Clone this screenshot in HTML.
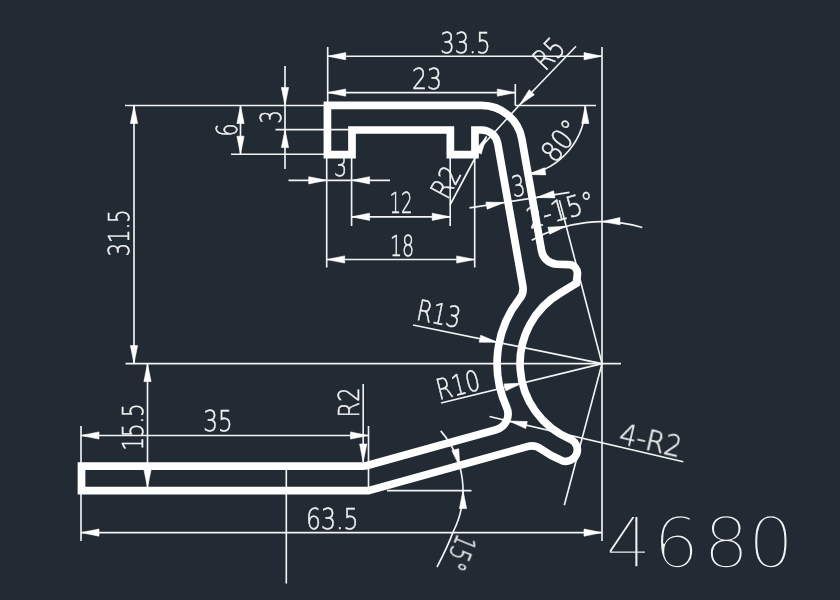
<!DOCTYPE html>
<html><head><meta charset="utf-8"><title>4680</title>
<style>
html,body{margin:0;padding:0;background:#222a33;}
body{width:840px;height:600px;overflow:hidden;}
svg{display:block;}
.thin line,.thin path{stroke:#f2f3f4;stroke-width:1.65;fill:none;}
.arr polygon{fill:#ffffff;stroke:#ffffff;stroke-width:0.6;}
.prof{fill:none;stroke:#ffffff;stroke-width:7.7;stroke-linejoin:miter;}
text{font-family:'DejaVu Sans Light','DejaVu Sans','Liberation Sans',sans-serif;font-weight:200;fill:#f2f3f4;stroke:#f2f3f4;stroke-width:0.55;text-rendering:geometricPrecision;}
.big{stroke:#222a33;stroke-width:1.45;}
</style></head><body>
<svg width="840" height="600" viewBox="0 0 840 600">
<rect width="840" height="600" fill="#222a33"/>
<g class="thin">
<line x1="602.0" y1="47.0" x2="602.0" y2="541.0"/>
<line x1="125.0" y1="105.5" x2="327.7" y2="105.5"/>
<line x1="125.5" y1="363.6" x2="621.0" y2="363.6"/>
<line x1="515.3" y1="105.5" x2="596.0" y2="105.5"/>
<line x1="286.3" y1="470.0" x2="286.3" y2="583.5"/>
<line x1="327.7" y1="47.0" x2="327.7" y2="105.5"/>
<line x1="327.7" y1="56.2" x2="602.0" y2="56.2"/>
<line x1="515.3" y1="84.0" x2="515.3" y2="105.5"/>
<line x1="327.7" y1="92.6" x2="515.3" y2="92.6"/>
<line x1="519.3" y1="105.2" x2="576.0" y2="46.3"/>
<line x1="519.3" y1="105.2" x2="481.6" y2="146.4"/>
<line x1="285.0" y1="66.0" x2="285.0" y2="169.0"/>
<line x1="275.5" y1="129.6" x2="351.0" y2="129.6"/>
<line x1="240.5" y1="105.5" x2="240.5" y2="154.2"/>
<line x1="231.0" y1="154.2" x2="327.7" y2="154.2"/>
<line x1="134.0" y1="105.5" x2="134.0" y2="363.6"/>
<line x1="147.5" y1="363.6" x2="147.5" y2="490.6"/>
<line x1="326.7" y1="154.0" x2="326.7" y2="267.5"/>
<line x1="351.6" y1="154.0" x2="351.6" y2="226.0"/>
<line x1="288.5" y1="180.3" x2="390.0" y2="180.3"/>
<line x1="450.2" y1="154.0" x2="450.2" y2="226.0"/>
<line x1="351.6" y1="216.8" x2="450.2" y2="216.8"/>
<line x1="474.7" y1="154.0" x2="474.7" y2="267.5"/>
<line x1="326.7" y1="259.5" x2="474.7" y2="259.5"/>
<line x1="450.0" y1="205.0" x2="486.5" y2="136.5"/>
<path d="M 585.3 105.5 A 70.0 70.0 0 0 1 527.5 174.4"/>
<line x1="469.5" y1="207.9" x2="569.5" y2="192.4"/>
<line x1="602.0" y1="363.6" x2="559.4" y2="200.1"/>
<line x1="602.0" y1="363.6" x2="564.3" y2="505.2"/>
<path d="M 531.7 240.3 A 142.0 142.0 0 0 1 642.3 227.5"/>
<line x1="413.0" y1="325.0" x2="602.0" y2="363.6"/>
<line x1="441.0" y1="403.0" x2="602.0" y2="363.6"/>
<line x1="683.3" y1="461.7" x2="489.5" y2="416.5"/>
<line x1="81.0" y1="426.0" x2="81.0" y2="541.0"/>
<line x1="368.5" y1="426.0" x2="368.5" y2="487.0"/>
<line x1="81.0" y1="435.5" x2="368.5" y2="435.5"/>
<line x1="363.2" y1="384.0" x2="363.2" y2="462.0"/>
<line x1="81.0" y1="532.6" x2="602.0" y2="532.6"/>
<line x1="387.0" y1="490.6" x2="471.5" y2="490.6"/>
<path d="M 440.7 430.9 A 91.0 91.0 0 0 1 453.1 531.9"/>
<path d="M 453.1 531.9 Q 448 546 437 567"/>
</g>
<g class="arr">
<polygon points="327.7,56.2 345.7,52.6 345.7,59.8"/>
<polygon points="602.0,56.2 584.0,59.8 584.0,52.6"/>
<polygon points="327.7,92.6 345.7,89.0 345.7,96.2"/>
<polygon points="515.3,92.6 497.3,96.2 497.3,89.0"/>
<polygon points="519.3,105.2 529.2,89.7 534.4,94.7"/>
<polygon points="285.0,105.5 281.4,87.5 288.6,87.5"/>
<polygon points="285.0,129.6 288.6,147.6 281.4,147.6"/>
<polygon points="240.5,105.5 244.1,123.5 236.9,123.5"/>
<polygon points="240.5,154.2 236.9,136.2 244.1,136.2"/>
<polygon points="134.0,105.5 137.6,123.5 130.4,123.5"/>
<polygon points="134.0,363.6 130.4,345.6 137.6,345.6"/>
<polygon points="147.5,363.6 151.1,381.6 143.9,381.6"/>
<polygon points="147.5,487.6 143.9,469.6 151.1,469.6"/>
<polygon points="326.7,180.3 308.7,183.9 308.7,176.7"/>
<polygon points="351.6,180.3 369.6,176.7 369.6,183.9"/>
<polygon points="351.6,216.8 369.6,213.2 369.6,220.4"/>
<polygon points="450.2,216.8 432.2,220.4 432.2,213.2"/>
<polygon points="326.7,259.5 344.7,255.9 344.7,263.1"/>
<polygon points="474.7,259.5 456.7,263.1 456.7,255.9"/>
<polygon points="486.5,136.5 481.2,154.1 474.9,150.7"/>
<polygon points="585.3,105.5 588.9,123.5 581.7,123.5"/>
<polygon points="527.5,174.4 544.6,167.8 545.8,174.9"/>
<polygon points="504.3,202.5 487.2,209.2 485.9,202.1"/>
<polygon points="536.5,197.5 553.6,190.8 554.9,197.9"/>
<polygon points="566.2,226.2 549.7,234.2 547.9,227.2"/>
<polygon points="602.0,221.6 619.9,217.6 620.1,224.8"/>
<polygon points="497.6,342.3 479.2,342.2 480.7,335.2"/>
<polygon points="522.4,383.1 505.8,390.9 504.0,383.9"/>
<polygon points="509.0,421.0 527.3,421.6 525.7,428.6"/>
<polygon points="81.0,435.5 99.0,431.9 99.0,439.1"/>
<polygon points="368.5,435.5 350.5,439.1 350.5,431.9"/>
<polygon points="363.2,462.0 359.6,444.0 366.8,444.0"/>
<polygon points="81.0,532.6 99.0,529.0 99.0,536.2"/>
<polygon points="602.0,532.6 584.0,536.2 584.0,529.0"/>
<polygon points="459.9,467.0 451.8,450.6 458.7,448.7"/>
<polygon points="463.0,490.6 466.6,508.6 459.4,508.6"/>
</g>
<g class="txt" opacity="0.996">
<text class="t" x="0" y="10.5" font-size="28.8" textLength="50.4" lengthAdjust="spacingAndGlyphs" text-anchor="middle" transform="translate(465.5 42.5) rotate(0.0)">33.5</text>
<text class="t" x="0" y="10.5" font-size="28.8" textLength="29.9" lengthAdjust="spacingAndGlyphs" text-anchor="middle" transform="translate(427.0 78.5) rotate(0.0)">23</text>
<text class="t" x="0" y="10.5" font-size="28.8" textLength="31.5" lengthAdjust="spacingAndGlyphs" text-anchor="middle" transform="translate(548.5 53.5) rotate(-46.0)">R5</text>
<text class="t" x="0" y="10.5" font-size="28.8" textLength="13.1" lengthAdjust="spacingAndGlyphs" text-anchor="middle" transform="translate(270.5 117.0) rotate(-90.0)">3</text>
<text class="t" x="0" y="10.5" font-size="28.8" textLength="13.1" lengthAdjust="spacingAndGlyphs" text-anchor="middle" transform="translate(226.0 130.0) rotate(-90.0)">6</text>
<text class="t" x="0" y="10.5" font-size="28.8" textLength="47.2" lengthAdjust="spacingAndGlyphs" text-anchor="middle" transform="translate(118.5 233.0) rotate(-90.0)">31.5</text>
<text class="t" x="0" y="10.5" font-size="28.8" textLength="47.2" lengthAdjust="spacingAndGlyphs" text-anchor="middle" transform="translate(132.0 427.0) rotate(-90.0)">15.5</text>
<text class="t" x="0" y="10.5" font-size="28.8" textLength="13.1" lengthAdjust="spacingAndGlyphs" text-anchor="middle" transform="translate(340.5 165.5) rotate(0.0)">3</text>
<text class="t" x="0" y="10.5" font-size="28.8" textLength="23.1" lengthAdjust="spacingAndGlyphs" text-anchor="middle" transform="translate(401.0 202.0) rotate(0.0)">12</text>
<text class="t" x="0" y="10.5" font-size="28.8" textLength="24.2" lengthAdjust="spacingAndGlyphs" text-anchor="middle" transform="translate(402.0 245.5) rotate(0.0)">18</text>
<text class="t" x="0" y="10.5" font-size="28.8" textLength="31.5" lengthAdjust="spacingAndGlyphs" text-anchor="middle" transform="translate(445.5 182.0) rotate(-61.5)">R2</text>
<text class="t" x="0" y="10.5" font-size="28.8" textLength="44.1" lengthAdjust="spacingAndGlyphs" text-anchor="middle" transform="translate(560.5 140.5) rotate(-52.0)">80°</text>
<text class="t" x="0" y="10.5" font-size="28.8" textLength="13.1" lengthAdjust="spacingAndGlyphs" text-anchor="middle" transform="translate(518.3 185.7) rotate(-9.0)">3</text>
<text class="t" x="0" y="10.5" font-size="28.8" textLength="69.3" lengthAdjust="spacingAndGlyphs" text-anchor="middle" transform="translate(560.5 209.5) rotate(-15.5)">2-15°</text>
<text class="t" x="0" y="10.5" font-size="28.8" textLength="44.1" lengthAdjust="spacingAndGlyphs" text-anchor="middle" transform="translate(439.0 313.5) rotate(11.5)">R13</text>
<text class="t" x="0" y="10.5" font-size="28.8" textLength="44.1" lengthAdjust="spacingAndGlyphs" text-anchor="middle" transform="translate(458.0 384.5) rotate(-13.8)">R10</text>
<text class="t" x="0" y="10.5" font-size="28.8" textLength="63.0" lengthAdjust="spacingAndGlyphs" text-anchor="middle" transform="translate(651.0 439.5) rotate(13.1)">4-R2</text>
<text class="t" x="0" y="10.5" font-size="28.8" textLength="29.4" lengthAdjust="spacingAndGlyphs" text-anchor="middle" transform="translate(218.0 420.5) rotate(0.0)">35</text>
<text class="t" x="0" y="10.5" font-size="28.8" textLength="29.9" lengthAdjust="spacingAndGlyphs" text-anchor="middle" transform="translate(348.0 402.5) rotate(-90.0)">R2</text>
<text class="t" x="0" y="10.5" font-size="28.8" textLength="52.5" lengthAdjust="spacingAndGlyphs" text-anchor="middle" transform="translate(332.3 518.5) rotate(0.0)">63.5</text>
<text class="t" x="0" y="10.5" font-size="28.8" textLength="35.7" lengthAdjust="spacingAndGlyphs" text-anchor="middle" transform="translate(461.5 553.0) rotate(112.0)">15°</text>
<text class="big" font-size="69.5" transform="translate(0 567.3) scale(1.040 1)" x="582.17 628.17 676.17 719.35" y="0">4680</text>
</g>
<path class="prof" d="M 327.41 105.40 L 481.55 105.40 A 40.98 40.98 0 0 1 521.91 139.27 L 541.56 250.72 A 16.39 16.39 0 0 0 557.14 264.25 L 569.23 264.68 A 8.52 8.52 0 0 1 577.40 274.21 L 576.30 283.40 L 561.02 292.62 A 81.97 81.97 0 0 0 570.64 439.34 A 11.48 11.48 0 0 1 561.86 460.54 A 104.92 104.92 0 0 1 541.13 449.06 A 16.39 16.39 0 0 0 527.23 446.61 L 368.39 490.66 L 81.50 490.66 L 81.50 466.07 L 362.82 466.07 A 16.39 16.39 0 0 0 367.20 465.47 L 496.01 429.75 A 16.39 16.39 0 0 0 506.55 407.15 A 104.92 104.92 0 0 1 519.39 298.93 Q 524.11 293.32 522.83 286.06 L 497.70 143.54 A 16.39 16.39 0 0 0 481.55 129.99 L 474.96 129.99 L 474.96 154.58 L 450.36 154.58 L 450.36 129.99 L 352.00 129.99 L 352.00 154.58 L 327.41 154.58 Z"/>
</svg>
</body></html>
